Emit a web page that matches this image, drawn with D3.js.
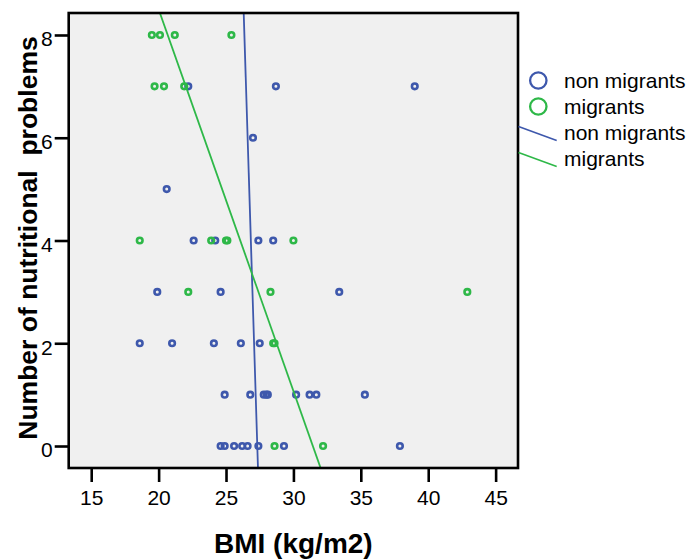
<!DOCTYPE html>
<html>
<head>
<meta charset="utf-8">
<script src="https://cdn.jsdelivr.net/npm/d3@7"></script>
<style>
  html, body { margin: 0; padding: 0; background: #ffffff; }
  svg { display: block; }
  text { font-family: "Liberation Sans", Arial, Helvetica, sans-serif; fill: #000; }
</style>
</head>
<body>
<svg id="chart" width="688" height="560"></svg>
<script>
// BMI and number of nutritional problems, per group
const nonMigrantsBMI = [22.2, 28.7, 39.0, 27.0, 20.6, 22.6, 24.2, 27.4, 28.5,
  19.9, 24.6, 33.4, 18.6, 21.0, 24.1, 26.1, 27.5,
  24.9, 26.8, 27.8, 28.0, 28.1, 30.2, 31.2, 31.7, 35.3,
  24.6, 24.9, 25.6, 26.2, 26.6, 27.4, 29.3, 37.9];
const nonMigrantsProblems = [7, 7, 7, 6, 5, 4, 4, 4, 4,
  3, 3, 3, 2, 2, 2, 2, 2,
  1, 1, 1, 1, 1, 1, 1, 1, 1,
  0, 0, 0, 0, 0, 0, 0, 0];

const migrantsBMI = [19.5, 20.1, 21.2, 25.4, 19.7, 20.4, 21.9,
  18.6, 23.9, 25.0, 25.1, 30.0, 22.2, 28.3, 42.9, 28.5, 28.6, 28.6, 32.2];
const migrantsProblems = [8, 8, 8, 8, 7, 7, 7,
  4, 4, 4, 4, 4, 3, 3, 3, 2, 2, 0, 0];

// Fit lines (problems = intercept + slope * BMI)
const groupNames = ["non migrants", "migrants"];
const groupColors = ["#3e58ac", "#2eb848"];
const fitIntercept = [228.4, 23.36];
const fitSlope = [-8.36, -0.743];

// Axis ticks
const xTicks = [15, 20, 25, 30, 35, 40, 45];
const yTicks = [0, 2, 4, 6, 8];

const svg = d3.select("#chart");
const plot = { left: 68.7, right: 518, top: 13, bottom: 468 };

const x = d3.scaleLinear().domain([13.33, 46.66]).range([plot.left, plot.right]);
const y = d3.scaleLinear().domain([-0.428, 8.428]).range([plot.bottom, plot.top]);

// Plot background
svg.append("rect")
  .attr("x", plot.left).attr("y", plot.top)
  .attr("width", plot.right - plot.left).attr("height", plot.bottom - plot.top)
  .attr("fill", "#f0f0f0");

svg.append("clipPath").attr("id", "plotClip")
  .append("rect")
  .attr("x", plot.left).attr("y", plot.top)
  .attr("width", plot.right - plot.left).attr("height", plot.bottom - plot.top);

// Points
const groups = [
  { bmi: nonMigrantsBMI, problems: nonMigrantsProblems },
  { bmi: migrantsBMI, problems: migrantsProblems }
];
const pointLayer = svg.append("g").attr("clip-path", "url(#plotClip)");
groups.forEach((g, gi) => {
  pointLayer.selectAll(null)
    .data(g.bmi.map((b, i) => [b, g.problems[i]]))
    .enter().append("circle")
    .attr("cx", d => x(d[0]))
    .attr("cy", d => y(d[1]))
    .attr("r", 2.8)
    .attr("fill", "none")
    .attr("stroke", groupColors[gi])
    .attr("stroke-width", 2.6);
});

// Fit lines across the full plot width
const lineLayer = svg.append("g").attr("clip-path", "url(#plotClip)");
const line = d3.line().x(d => x(d[0])).y(d => y(d[1]));
groupNames.forEach((name, gi) => {
  const xs = x.domain();
  lineLayer.append("path")
    .datum(xs.map(v => [v, fitIntercept[gi] + fitSlope[gi] * v]))
    .attr("d", line)
    .attr("fill", "none")
    .attr("stroke", groupColors[gi])
    .attr("stroke-width", 1.8);
});

// Frame
svg.append("rect")
  .attr("x", plot.left).attr("y", plot.top)
  .attr("width", plot.right - plot.left).attr("height", plot.bottom - plot.top)
  .attr("fill", "none").attr("stroke", "#000").attr("stroke-width", 2.6);

// X axis
const xAxis = svg.append("g")
  .attr("transform", `translate(0,${plot.bottom})`)
  .call(d3.axisBottom(x).tickValues(xTicks).tickSize(14).tickSizeOuter(0).tickFormat(d3.format("d")));
xAxis.select(".domain").remove();
xAxis.selectAll(".tick line").attr("stroke", "#000").attr("stroke-width", 2.6);
xAxis.selectAll(".tick text")
  .attr("y", 37).attr("dy", 0)
  .style("font-family", "'Liberation Sans', Arial, sans-serif")
  .style("font-size", "21px").attr("fill", "#000");

// Y axis
const yAxis = svg.append("g")
  .attr("transform", `translate(${plot.left},0)`)
  .call(d3.axisLeft(y).tickValues(yTicks).tickSize(14).tickSizeOuter(0).tickPadding(2).tickFormat(d3.format("d")));
yAxis.select(".domain").remove();
yAxis.selectAll(".tick line").attr("stroke", "#000").attr("stroke-width", 2.6);
yAxis.selectAll(".tick text")
  .attr("dy", "0.52em")
  .style("font-family", "'Liberation Sans', Arial, sans-serif")
  .style("font-size", "21px").attr("fill", "#000");

// Axis titles
svg.append("text")
  .attr("x", (plot.left + plot.right) / 2)
  .attr("y", 552.7)
  .attr("text-anchor", "middle")
  .style("font-size", "28px").style("font-weight", "bold")
  .text("BMI (kg/m2)");

svg.append("text")
  .attr("transform", `translate(36.7,238) rotate(-90)`)
  .attr("text-anchor", "middle")
  .style("font-size", "26.5px").style("font-weight", "bold")
  .style("white-space", "pre")
  .attr("xml:space", "preserve")
  .text("Number of nutritional  problems");

// Legend
const legend = svg.append("g");
const rowBase = [88, 114, 140, 166];
groupNames.forEach((name, gi) => {
  legend.append("circle")
    .attr("cx", 538.3).attr("cy", rowBase[gi] - 7.5)
    .attr("r", 8.2)
    .attr("fill", "none")
    .attr("stroke", groupColors[gi])
    .attr("stroke-width", 2.3);
  legend.append("text")
    .attr("x", 564).attr("y", rowBase[gi])
    .style("font-size", "21px")
    .text(name);
});
groupNames.forEach((name, gi) => {
  const base = rowBase[gi + 2];
  legend.append("line")
    .attr("x1", 518.5).attr("y1", base - 13.5)
    .attr("x2", 556.7).attr("y2", base + 0.5)
    .attr("stroke", groupColors[gi])
    .attr("stroke-width", 1.6);
  legend.append("text")
    .attr("x", 564).attr("y", base)
    .style("font-size", "21px")
    .text(name);
});
</script>
</body>
</html>
